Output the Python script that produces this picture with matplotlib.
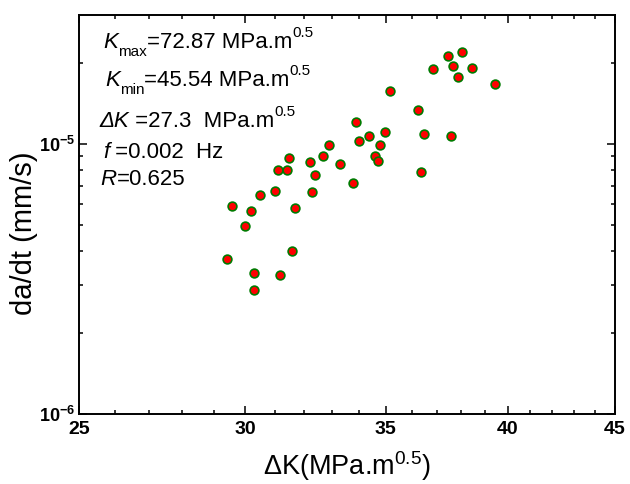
import matplotlib
matplotlib.use("Agg")
import matplotlib.pyplot as plt
from matplotlib.ticker import FixedLocator, NullFormatter
from matplotlib.transforms import offset_copy

plt.rcParams['font.family'] = ['Liberation Sans', 'DejaVu Sans']
plt.rcParams['mathtext.fontset'] = 'custom'
plt.rcParams['mathtext.rm'] = 'Liberation Sans'
plt.rcParams['mathtext.it'] = 'Liberation Sans:italic'
plt.rcParams['mathtext.bf'] = 'Liberation Sans:bold'
plt.rcParams['mathtext.sf'] = 'Liberation Sans'

# Stress intensity factor range (MPa.m^0.5)
delta_k = [38.07, 37.47, 37.68, 38.46, 36.87, 37.87, 39.46, 35.17, 36.27, 33.87,
           34.98, 36.49, 37.58, 34.37, 33.98, 34.78, 32.88, 32.68, 34.58, 34.70,
           31.48, 32.19, 33.29, 31.09, 31.40, 32.38, 36.38, 33.77, 30.99, 30.48,
           32.29, 29.58, 31.69, 30.18, 29.98, 31.59, 29.39, 30.28, 31.18, 30.28]
# Crack growth rate da/dt (mm/s)
dadt = [2.19e-5, 2.11e-5, 1.94e-5, 1.915e-5, 1.89e-5, 1.765e-5, 1.667e-5, 1.574e-5,
        1.335e-5, 1.205e-5, 1.104e-5, 1.085e-5, 1.07e-5, 1.067e-5, 1.028e-5, 9.88e-6,
        9.91e-6, 9.0e-6, 9.04e-6, 8.62e-6, 8.84e-6, 8.59e-6, 8.45e-6, 8.0e-6,
        8.03e-6, 7.65e-6, 7.87e-6, 7.15e-6, 6.69e-6, 6.45e-6, 6.62e-6, 5.9e-6,
        5.79e-6, 5.63e-6, 4.98e-6, 4.01e-6, 3.75e-6, 3.34e-6, 3.26e-6, 2.88e-6]

x_major = [25, 30, 35, 40, 45]
x_minor = [26, 27, 28, 29, 31, 32, 33, 34, 36, 37, 38, 39, 41, 42, 43, 44]
y_major = [1e-6, 1e-5]
y_major_labels = [r'$\mathbf{10^{-6}}$', r'$\mathbf{10^{-5}}$']
y_minor = [2e-6, 3e-6, 4e-6, 5e-6, 6e-6, 7e-6, 8e-6, 9e-6, 2e-5]

# Loading conditions: (text, size, style, vertical offset in px) runs per line
kmax_runs = [('K', 16, 'italic', 0), ('max', 11, 'normal', -8),
             ('=72.87 MPa.m', 16, 'normal', 0), ('0.5', 11, 'normal', 11)]
kmin_runs = [('K', 16, 'italic', 0), ('min', 11, 'normal', -8),
             ('=45.54 MPa.m', 16, 'normal', 0), ('0.5', 11, 'normal', 11)]
dk_runs = [('\u0394K', 16, 'italic', 0), (' =27.3  MPa.m', 16, 'normal', 0),
           ('0.5', 11, 'normal', 11)]
f_runs = [('f', 16, 'italic', 0), (' =0.002  Hz', 16, 'normal', 0)]
r_runs = [('R', 16, 'italic', 0), ('=0.625', 16, 'normal', 0)]

fig = plt.figure(figsize=(6.3, 4.84), dpi=100)
ax = fig.add_axes([79 / 630, 1 - 414 / 484, 536 / 630, 399 / 484])

ax.plot(delta_k, dadt, linestyle='none', marker='o', markersize=6.3,
        markerfacecolor='#ff0000', markeredgecolor='#007a00', markeredgewidth=1.2)

ax.set_xscale('log')
ax.set_yscale('log')
ax.set_xlim(25, 45)
ax.set_ylim(1e-6, 3e-5)

ax.xaxis.set_major_locator(FixedLocator(x_major))
ax.xaxis.set_minor_locator(FixedLocator(x_minor))
ax.set_xticklabels([str(v) for v in x_major], fontsize=14, fontweight='bold')
ax.xaxis.set_minor_formatter(NullFormatter())

ax.yaxis.set_major_locator(FixedLocator(y_major))
ax.yaxis.set_minor_locator(FixedLocator(y_minor))
ax.set_yticklabels(y_major_labels, fontsize=13)
ax.yaxis.set_minor_formatter(NullFormatter())

ax.tick_params(which='both', direction='in', top=True, right=True, width=1.1, color='black')
ax.tick_params(which='major', length=6)
ax.tick_params(which='minor', length=3)
ax.tick_params(axis='x', which='major', pad=5)
ax.tick_params(axis='y', which='major', pad=3)
for s in ax.spines.values():
    s.set_linewidth(1.4)

ax.set_xlabel(r'$\Delta$K(MPa.m$^{0.5}$)', fontsize=19.5, va='baseline')
ax.xaxis.set_label_coords(0.5, -0.152)
ax.set_ylabel('da/dt (mm/s)', fontsize=21, va='center')
ax.yaxis.set_label_coords(-0.1026, 0.454)

renderer = fig.canvas.get_renderer()


def text_runs(x, y, runs):
    """Lay out consecutive text pieces on one baseline, in axes coordinates."""
    dx = 0.0
    for s, size, style, rise in runs:
        tr = offset_copy(ax.transAxes, fig=fig, x=dx, y=rise, units='dots')
        t = ax.text(x, y, s, transform=tr, fontsize=size, fontstyle=style,
                    va='baseline', ha='left')
        dx += t.get_window_extent(renderer).width


text_runs(0.0448, 0.917, kmax_runs)
text_runs(0.0485, 0.822, kmin_runs)
text_runs(0.038, 0.720, dk_runs)
text_runs(0.0448, 0.6416, f_runs)
text_runs(0.040, 0.574, r_runs)

fig.savefig('out.png', dpi=100)
